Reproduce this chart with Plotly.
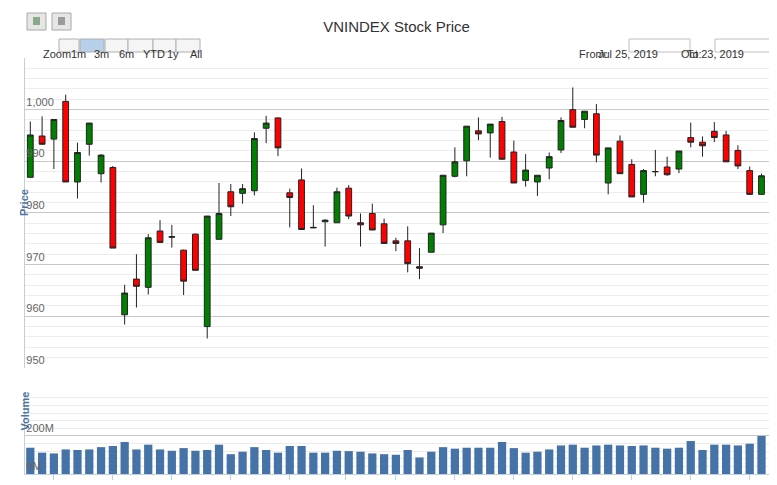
import pandas as pd
import plotly.graph_objects as go
from plotly.subplots import make_subplots

# trading days (Sep 2 holiday)
dates = [d for d in pd.bdate_range("2019-07-25", "2019-10-23") if d != pd.Timestamp("2019-09-02")]

opens = [986.9, 994.9, 994.3, 1001.6, 986.0, 993.3, 987.6, 988.8, 960.3, 967.2,
         965.6, 976.5, 975.3, 972.8, 975.9, 958.0, 974.9, 984.1, 983.8, 984.3,
         996.4, 998.4, 983.9, 986.4, 977.1, 978.3, 978.1, 984.8, 978.1, 979.9,
         977.9, 974.6, 974.6, 969.6, 972.4, 977.7, 987.1, 990.1, 995.9, 995.5,
         997.7, 991.8, 986.3, 986.0, 988.7, 992.2, 1000.0, 998.1, 999.2, 985.8,
         993.9, 989.4, 983.6, 988.0, 988.9, 988.5, 994.6, 993.7, 995.8, 995.1,
         992.1, 988.2, 983.6, 987.2]
highs = [997.7, 998.7, 998.1, 1002.9, 993.6, 997.4, 991.4, 989.1, 966.1, 972.0,
         975.9, 978.6, 977.7, 972.9, 976.0, 979.4, 985.8, 985.6, 985.6, 995.6,
         998.8, 998.5, 984.7, 988.6, 981.5, 978.8, 984.9, 985.4, 979.9, 981.8,
         978.9, 975.2, 977.4, 973.2, 976.1, 987.3, 992.7, 996.8, 998.5, 997.2,
         998.6, 994.0, 991.4, 987.3, 991.7, 998.5, 1004.3, 999.7, 1001.1, 992.6,
         995.0, 990.4, 988.5, 992.2, 990.9, 992.0, 997.5, 994.8, 997.6, 995.9,
         993.1, 989.0, 987.6, 989.7]
lows = [986.9, 993.2, 988.5, 986.0, 982.8, 991.1, 985.9, 973.2, 958.4, 961.7,
        964.2, 974.3, 973.3, 964.1, 968.9, 955.7, 974.9, 979.4, 981.8, 983.4,
        993.5, 991.0, 977.2, 976.8, 977.1, 973.5, 978.1, 978.8, 973.5, 976.7,
        974.1, 972.6, 968.5, 967.2, 972.4, 976.1, 986.9, 987.1, 994.1, 990.7,
        990.4, 985.8, 985.1, 983.3, 986.5, 991.6, 996.6, 996.4, 989.8, 983.6,
        987.6, 983.1, 982.0, 987.1, 987.2, 987.7, 992.7, 990.9, 993.7, 989.9,
        988.5, 983.6, 983.6, 985.7]
closes = [995.1, 993.3, 998.1, 986.0, 991.7, 997.4, 991.2, 973.2, 964.5, 965.8,
          975.2, 974.3, 975.4, 966.8, 968.9, 979.4, 979.9, 981.2, 984.7, 994.4,
          997.4, 992.6, 983.0, 976.8, 977.2, 978.6, 984.1, 979.4, 977.7, 976.7,
          974.1, 974.1, 970.2, 969.3, 976.1, 987.3, 989.9, 996.8, 995.3, 997.2,
          990.4, 985.8, 988.3, 987.3, 990.9, 997.9, 996.6, 999.7, 991.2, 992.6,
          987.6, 983.1, 988.2, 988.0, 987.4, 992.0, 993.7, 993.0, 994.6, 989.9,
          989.1, 983.6, 987.2, 987.8]
# volume in millions
volumes = [138, 112, 108, 129, 126, 129, 141, 147, 168, 129, 154, 129, 122, 136,
           122, 126, 154, 104, 117, 141, 126, 112, 147, 147, 112, 112, 122, 120,
           117, 108, 104, 101, 126, 87, 117, 141, 133, 138, 138, 138, 168, 136,
           112, 117, 129, 150, 154, 138, 150, 154, 150, 147, 150, 138, 133, 138,
           173, 126, 154, 154, 150, 159, 200, 150]

tick_labels = ["29. Jul", "5. Aug", "12. Aug", "19. Aug", "26. Aug", "2. Sep", "9. Sep",
               "16. Sep", "23. Sep", "30. Sep", "7. Oct", "14. Oct", "21. Oct"]
tick_dates = pd.date_range("2019-07-29", periods=len(tick_labels), freq="7D")

x = list(range(len(dates)))
idx = {d: i for i, d in enumerate(dates)}
tick_pos = [idx[d] if d in idx else idx[d + pd.Timedelta(days=1)] - 0.3 for d in tick_dates]

FONT = "Liberation Sans Narrow, Liberation Sans, Arial"
L, R, T, B, W, H = 17, 7, 50, 19, 777, 485


def px(xp, yp):
    return (xp - L) / (W - L - R), (H - B - yp) / (H - T - B)


fig = make_subplots(rows=2, cols=1, shared_xaxes=True)
fig.add_trace(go.Candlestick(
    x=x, open=opens, high=highs, low=lows, close=closes,
    increasing=dict(fillcolor="#008000", line=dict(color="#222", width=1)),
    decreasing=dict(fillcolor="#ff0000", line=dict(color="#222", width=1)),
    whiskerwidth=0, showlegend=False), row=1, col=1)
fig.add_trace(go.Bar(x=x, y=[v * 1e6 for v in volumes], marker_color="#4572A7",
                     marker_line_width=0, width=0.7, showlegend=False), row=2, col=1)

fig.update_layout(
    width=W, height=H, margin=dict(l=L, r=R, t=T, b=B, autoexpand=False),
    paper_bgcolor="white", plot_bgcolor="white",
    font=dict(family=FONT, size=11, color="#666"),
    title=dict(text="VNINDEX Stock Price", x=0.5, y=0.972, xanchor="center",
               font=dict(family=FONT, size=15, color="#333")),
    xaxis=dict(domain=[0, 1], range=[-0.45, 63.4], rangeslider=dict(visible=False),
               showticklabels=False, showgrid=False, showline=False, ticks="",
               anchor="y"),
    xaxis2=dict(range=[-0.45, 63.4], tickvals=tick_pos, ticktext=tick_labels,
                showgrid=False, showline=True, linecolor="#c0d0e0", ticks="outside",
                tickcolor="#c0d0e0", ticklen=5, tickfont=dict(size=11, color="#555")),
    yaxis=dict(domain=[0.255, 1], range=[950, 1010], tickvals=[950, 960, 970, 980, 990, 1000],
               ticktext=["950", "960", "970", "980", "990", "1,000"],
               ticklabelposition="inside top", gridcolor="#c8c8c8", zeroline=False,
               showline=True, linecolor="#c0d0e0",
               minor=dict(dtick=2, showgrid=True, gridcolor="#ececec"),
               tickfont=dict(size=11, color="#666")),
    yaxis2=dict(domain=[0, 0.195], range=[0, 426e6], tickvals=[0, 200e6],
                ticktext=["0M", "200M"], ticklabelposition="inside top",
                gridcolor="#c8c8c8", zeroline=False, showline=True, linecolor="#c0d0e0",
                minor=dict(dtick=40e6, showgrid=True, gridcolor="#ececec"),
                tickfont=dict(size=11, color="#666")),
    bargap=0.3,
)

ann = []
# axis titles
for text, yp in [("Price", 195), ("Volume", 425)]:
    xx, yy = px(8, yp)
    ann.append(dict(text="<b>" + text + "</b>", x=xx, y=yy, textangle=-90, showarrow=False,
                    font=dict(size=11, color="#4d759e")))
# range selector
xx, yy = px(33, 38)
ann.append(dict(text="Zoom", x=xx, y=yy, showarrow=False, font=dict(size=11, color="#333")))
for label, x0, x1, on in [("1m", 51, 71, False), ("3m", 72, 96, True), ("6m", 97, 120, False),
                          ("YTD", 120, 145, False), ("1y", 145, 168, False), ("All", 168, 192, False)]:
    a, b = px(x0, 44)
    c, d = px(x1, 31)
    fig.add_shape(type="rect", xref="paper", yref="paper", x0=a, x1=c, y0=b, y1=d,
                  line=dict(color="#b0b0b0", width=1), fillcolor="#b8cfe9" if on else "#f5f5f5")
    xx, yy = px((x0 + x1) / 2, 37.5)
    ann.append(dict(text=label, x=xx, y=yy, showarrow=False, font=dict(size=11, color="#333")))
for label, x0, x1 in [("Jul 25, 2019", 621, 682), ("Oct 23, 2019", 707, 768)]:
    a, b = px(x0, 44)
    c, d = px(x1, 31)
    fig.add_shape(type="rect", xref="paper", yref="paper", x0=a, x1=c, y0=b, y1=d,
                  line=dict(color="#c0c0c0", width=1), fillcolor="white")
    xx, yy = px((x0 + x1) / 2, 37.5)
    ann.append(dict(text=label, x=xx, y=yy, showarrow=False, font=dict(size=11, color="#333")))
for label, xp in [("From:", 602), ("To:", 696)]:
    xx, yy = px(xp, 37.5)
    ann.append(dict(text=label, x=xx, y=yy, showarrow=False, font=dict(size=11, color="#333")))
# export / print icons
for x0 in [19, 44]:
    a, b = px(x0, 22)
    c, d = px(x0 + 19, 5)
    fig.add_shape(type="rect", xref="paper", yref="paper", x0=a, x1=c, y0=b, y1=d,
                  line=dict(color="#a8a8a8", width=1), fillcolor="#e6e6e6")
    a, b = px(x0 + 6, 17)
    c, d = px(x0 + 13, 9)
    fig.add_shape(type="rect", xref="paper", yref="paper", x0=a, x1=c, y0=b, y1=d,
                  line=dict(width=0), fillcolor="#8aa88a" if x0 == 19 else "#9a9a9a")
for a_ in ann:
    a_.update(xref="paper", yref="paper")
fig.update_layout(annotations=ann)

fig.write_html("out.html")
